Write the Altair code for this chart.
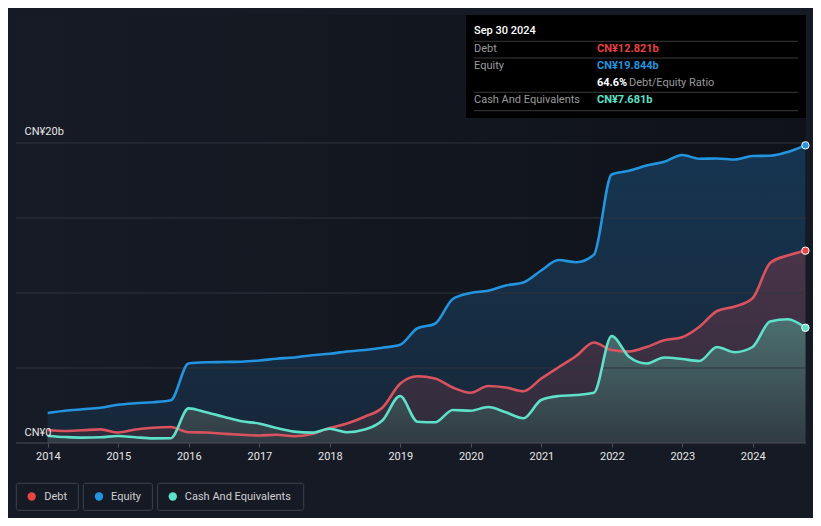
import altair as alt
import pandas as pd

# ---------------- data ----------------
quarter_ends = ["03-31", "06-30", "09-30", "12-31"]
dates = ["2013-12-31"] + [f"{y}-{q}" for y in range(2014, 2025) for q in quarter_ends][:-1]

equity = [2.0, 2.15, 2.25, 2.35, 2.55, 2.65, 2.72, 2.85,
          5.3, 5.38, 5.4, 5.42, 5.5, 5.62, 5.7, 5.85,
          5.95, 6.1, 6.2, 6.35, 6.55, 7.65, 7.95, 9.6,
          10.0, 10.15, 10.5, 10.7, 11.5, 12.2, 12.05, 12.55,
          17.9, 18.15, 18.5, 18.75, 19.2, 18.95, 18.97, 18.9,
          19.13, 19.15, 19.4, 19.844]
debt = [0.87, 0.8, 0.85, 0.91, 0.7, 0.9, 1.02, 1.07,
        0.72, 0.7, 0.62, 0.55, 0.5, 0.55, 0.45, 0.6,
        1.0, 1.3, 1.75, 2.35, 3.95, 4.45, 4.3, 3.7,
        3.35, 3.8, 3.7, 3.45, 4.3, 5.05, 5.8, 6.7,
        6.2, 6.1, 6.4, 6.85, 7.05, 7.75, 8.8, 9.1,
        9.65, 12.0, 12.5, 12.821]
cash = [0.47, 0.4, 0.36, 0.38, 0.47, 0.38, 0.31, 0.32,
        2.31, 2.05, 1.75, 1.45, 1.3, 1.0, 0.76, 0.69,
        0.95, 0.72, 0.9, 1.5, 3.13, 1.42, 1.38, 2.2,
        2.15, 2.4, 2.05, 1.65, 2.87, 3.13, 3.2, 3.35,
        7.13, 5.75, 5.3, 5.7, 5.6, 5.47, 6.4, 6.05,
        6.4, 8.1, 8.25, 7.681]

series_names = ["Debt", "Equity", "Cash And Equivalents"]
line_colors = {"Debt": "#d9535f", "Equity": "#2394df", "Cash And Equivalents": "#5fe0c9"}
dot_colors = {"Debt": "#e84545", "Equity": "#2394df", "Cash And Equivalents": "#5fe0c9"}
year_ticks = list(range(2014, 2025))
grid_values = [0, 5, 10, 15, 20]

# ---------------- layout ----------------
W, H = 790, 428
BG = "#151a24"

x_scale = alt.Scale(domain=[alt.DateTime(year=2013, month=7, date=20),
                            alt.DateTime(year=2024, month=10, date=3)])
y_scale = alt.Scale(domain=[0, 28.533], nice=False, zero=True)

frames = {
    "Debt": pd.DataFrame({"date": dates, "value": debt}),
    "Equity": pd.DataFrame({"date": dates, "value": equity}),
    "Cash And Equivalents": pd.DataFrame({"date": dates, "value": cash}),
}

one = pd.DataFrame({"a": [0]})


def grad(top, bottom):
    return alt.Gradient(gradient="linear", x1=1, x2=1, y1=0, y2=1,
                        stops=[alt.GradientStop(color=top, offset=0),
                               alt.GradientStop(color=bottom, offset=1)])


x_axis = alt.Axis(values=[alt.DateTime(year=y, month=1, date=1) for y in year_ticks],
                  format="%Y", grid=False, domain=False, ticks=True, tickSize=4,
                  tickColor="#4a4f59", labelPadding=3, labelColor="#e6e6e6",
                  labelFontSize=11, title=None, zindex=1)
y_axis = alt.Axis(values=grid_values, grid=False, domain=False, ticks=False,
                  labelExpr="datum.value == 20 ? 'CN¥20b' : (datum.value == 0 ? 'CN¥0' : '')",
                  labelAlign="left", labelPadding=-8, labelBaseline="alphabetic",
                  labelOffset=-8, labelColor="#e6e6e6", labelFontSize=11,
                  title=None, zindex=1)

X = alt.X("date:T", scale=x_scale, axis=x_axis, title=None)
Y = alt.Y("value:Q", scale=y_scale, axis=y_axis, title=None)

plot_bg = alt.Chart(one).mark_rect(
    fill=alt.Gradient(gradient="linear", x1=0, x2=1, y1=0, y2=0,
                      stops=[alt.GradientStop(color="#161b26", offset=0),
                             alt.GradientStop(color="#0f1218", offset=1)])
).encode(x=alt.value(0), x2=alt.value(W), y=alt.value(0), y2=alt.value(H))

area_fills = {
    "Equity": grad("#163551", "#172739"),
    "Debt": grad("#4a3449", "#2f2c3b"),
    "Cash And Equivalents": grad("#4c6f70", "#313b44"),
}

layers = [plot_bg]
for name in ["Equity", "Debt", "Cash And Equivalents"]:
    layers.append(alt.Chart(frames[name]).mark_area(
        interpolate="monotone", fill=area_fills[name]).encode(x=X, y=Y))

grid_df = pd.DataFrame({"value": grid_values})
layers.append(alt.Chart(grid_df).mark_rule(strokeWidth=1).encode(
    y=Y, x=alt.value(0), x2=alt.value(W),
    color=alt.condition("datum.value == 0", alt.value("#4a4f5a"), alt.value("#30353f"))))

for name in ["Equity", "Debt", "Cash And Equivalents"]:
    layers.append(alt.Chart(frames[name]).mark_line(
        interpolate="monotone", strokeWidth=2.6, color=line_colors[name]).encode(x=X, y=Y))
    last = frames[name].tail(1)
    layers.append(alt.Chart(last).mark_point(
        filled=True, size=55, fill=dot_colors[name], stroke="white", strokeWidth=1,
        opacity=1).encode(x=X, y=Y))

# ---------------- tooltip box ----------------
ratio = debt[-1] / equity[-1] * 100
tip = [alt.Chart(one).mark_rect(fill="#000000").encode(
    x=alt.value(450), x2=alt.value(W), y=alt.value(0), y2=alt.value(103))]
for yy in [26.3, 43, 77.3, 95.7]:
    tip.append(alt.Chart(one).mark_rule(color="#3a3a3a", strokeWidth=1).encode(
        x=alt.value(458), x2=alt.value(782), y=alt.value(yy)))


def txt(x, y, s, color, size=11, weight="normal"):
    return alt.Chart(one).mark_text(align="left", baseline="middle", fontSize=size,
                                    fontWeight=weight, color=color).encode(
        x=alt.value(x), y=alt.value(y), text=alt.value(s))


tip += [
    txt(458, 16, "Sep 30 2024", "#ffffff", 11, 500),
    txt(458, 34, "Debt", "#9a9a9a"),
    txt(581, 34, f"CN¥{debt[-1]:.3f}b", "#e8413f", 11, "bold"),
    txt(458, 51.3, "Equity", "#9a9a9a"),
    txt(581, 51.3, f"CN¥{equity[-1]:.3f}b", "#2394df", 11, "bold"),
    txt(581, 68.3, f"{ratio:.1f}%", "#ffffff", 11, "bold"),
    txt(613, 68.3, "Debt/Equity Ratio", "#9a9a9a"),
    txt(458, 85, "Cash And Equivalents", "#9a9a9a"),
    txt(581, 85, f"CN¥{cash[-1]:.3f}b", "#5fe0c8", 11, "bold"),
]
layers += tip

# ---------------- legend ----------------
legend_boxes = {"Debt": (0.3, 62.3, 15.7, 28.3),
                "Equity": (67.3, 136.4, 83.0, 95.0),
                "Cash And Equivalents": (141.6, 287.7, 156.8, 168.8)}
for name in series_names:
    x0, x1, dx, tx = legend_boxes[name]
    layers.append(alt.Chart(one).mark_rect(
        fillOpacity=0, stroke="#3c414b", strokeWidth=1, cornerRadius=2).encode(
        x=alt.value(x0), x2=alt.value(x1), y=alt.value(468.3), y2=alt.value(495.3)))
    layers.append(alt.Chart(one).mark_circle(size=70, opacity=1, color=dot_colors[name]).encode(
        x=alt.value(dx), y=alt.value(481.5)))
    layers.append(txt(tx, 481.5, name, "#d0d0d0", 11))

chart = alt.layer(*layers).properties(
    width=W, height=H,
    autosize=alt.AutoSizeParams(type="none"),
    padding={"left": 8, "top": 7, "right": 7, "bottom": 75},
    background=BG,
).configure(font="Roboto").configure_view(strokeWidth=0)

chart.save("out.html", embed_options={"renderer": "svg", "actions": False})
